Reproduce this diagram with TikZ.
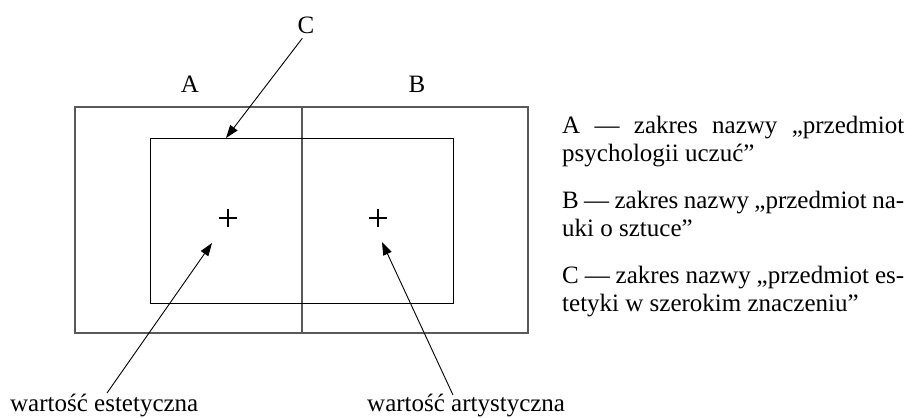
\documentclass[tikz,border=0pt]{standalone}
\usepackage{fontspec}
\setmainfont{Liberation Serif}
\usetikzlibrary{arrows.meta}
\begin{document}
\begin{tikzpicture}[x=1pt,y=-1pt,
  lbl/.style={font=\fontsize{25}{28}\selectfont, inner sep=0pt, anchor=base},
  txt/.style={font=\fontsize{25}{28}\selectfont, inner sep=0pt, anchor=base west},
  arr/.style={-{Triangle[length=13pt,width=9pt]}, line width=0.9pt},
  outerline/.style={draw=black!65, line width=1.1pt},
  innerline/.style={draw=black, line width=1pt},
  plusmark/.style={line width=1.2pt}]
\useasboundingbox (0,0) rectangle (914,418);
% rectangles
\draw[outerline] (75,107) rectangle (528,333);
\draw[outerline] (302,107) -- (302,333);
\draw[innerline] (150,138) rectangle (453,303);
% plus marks
\coordinate (pA) at (228,218);
\coordinate (pB) at (378,218);
\draw[plusmark] ([xshift=-9pt]pA) -- ([xshift=9pt]pA);
\draw[plusmark] ([yshift=-9pt]pA) -- ([yshift=9pt]pA);
\draw[plusmark] ([xshift=-9pt]pB) -- ([xshift=9pt]pB);
\draw[plusmark] ([yshift=-9pt]pB) -- ([yshift=9pt]pB);
% labels
\node[lbl] (A) at (190,92) {A};
\node[lbl] (B) at (417,92) {B};
\node[lbl] (C) at (306,33) {C};
\coordinate (cTip) at (226,138);
\draw[arr, shorten <=6pt] (C.south) -- (cTip);
% bottom labels
\node[txt] (we) at (10,411) {wartość estetyczna};
\node[txt] (wa) at (367,411) {wartość artystyczna};
\coordinate (weS) at (107,393);
\coordinate (waS) at (453,395);
\coordinate (weT) at (212,243);
\coordinate (waT) at (382,242);
\draw[arr] (weS) -- (weT);
\draw[arr] (waS) -- (waT);
% legend
\node[txt] (a1) at (562,133) {\makebox[342pt][s]{A — zakres nazwy „przedmiot}};
\node[txt] (a2) at (562,161) {psychologii uczuć”};
\node[txt] (b1) at (562,208) {\makebox[342pt][s]{B — zakres nazwy „przedmiot na-}};
\node[txt] (b2) at (562,236) {uki o sztuce”};
\node[txt] (c1) at (562,283) {\makebox[342pt][s]{C — zakres nazwy „przedmiot es-}};
\node[txt] (c2) at (562,311) {tetyki w szerokim znaczeniu”};
\end{tikzpicture}
\end{document}
